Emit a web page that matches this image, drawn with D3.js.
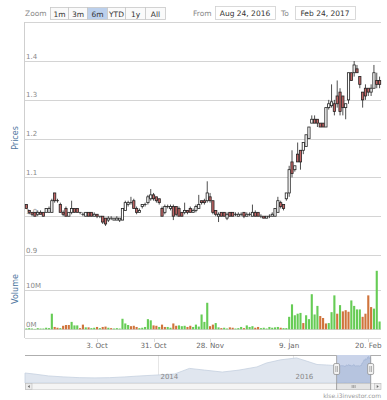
<!DOCTYPE html>
<html>
<head>
<meta charset="utf-8">
<script src="https://cdn.jsdelivr.net/npm/d3@7"></script>
<style>
body { margin: 0; background: #fff; }
text { font-family: "DejaVu Sans", Verdana, sans-serif; }
</style>
</head>
<body>
<svg id="chart"></svg>
<script>
// trading days: weekdays from 24 Aug 2016 to 24 Feb 2017, minus market holidays
const startDay = "2016-08-24", endDay = "2017-02-24";
const holidays = ["2016-08-31", "2016-09-12", "2016-09-16", "2016-12-12", "2016-12-26", "2017-01-30", "2017-02-09"];

const opens = [1.03,1.015,1.01,1.01,1.005,1.01,1.01,1.01,1.01,1.01, 1.06,1.04,1.03,1.01,1.02,1.0,1.01,1.02,1.02,1.01,
  1.005,1.0,1.01,1.01,1.0,1.005,1.0,1.0,0.995,0.99, 0.995,0.99,0.99,0.99,0.99,1.015,1.03,1.035,1.04,1.02,
  1.01,1.025,1.03,1.035,1.045,1.055,1.05,1.045,1.02,1.01, 1.025,1.02,1.025,1.025,1.02,1.01,1.01,1.015,1.02,1.01,
  1.015,1.02,1.04,1.04,1.04,1.05,1.04,1.015,1.0,1.01, 1.01,0.995,1.01,1.01,1.005,1.0,1.005,1.01,1.0,1.005,
  1.0,1.01,1.01,1.0,1.0,0.995,1.0,1.0,1.0,1.01, 1.035,1.03,1.045,1.06,1.14,1.12,1.16,1.17,1.17,1.18,
  1.2,1.24,1.25,1.25,1.24,1.24,1.23,1.28,1.285,1.29, 1.31,1.32,1.31,1.28,1.3,1.37,1.37,1.38,1.36,1.32,
  1.33,1.33,1.32,1.33,1.35,1.35];
const highs = [1.03,1.015,1.01,1.01,1.015,1.015,1.01,1.02,1.025,1.045, 1.06,1.045,1.035,1.015,1.025,1.01,1.04,1.02,1.02,1.01,
  1.01,1.01,1.01,1.01,1.01,1.005,1.0,1.0,0.995,1.0, 1.0,0.995,1.0,0.995,1.02,1.04,1.04,1.05,1.045,1.025,
  1.02,1.03,1.035,1.055,1.07,1.06,1.05,1.045,1.025,1.03, 1.03,1.03,1.03,1.025,1.025,1.01,1.035,1.015,1.025,1.02,
  1.03,1.055,1.04,1.045,1.09,1.06,1.04,1.015,1.01,1.01, 1.01,1.01,1.01,1.01,1.01,1.01,1.01,1.01,1.01,1.01,
  1.03,1.015,1.01,1.005,1.0,1.0,1.005,1.01,1.02,1.05, 1.04,1.03,1.06,1.13,1.17,1.13,1.19,1.17,1.19,1.21,
  1.23,1.26,1.26,1.25,1.24,1.24,1.28,1.3,1.34,1.3, 1.35,1.33,1.31,1.29,1.37,1.37,1.40,1.39,1.36,1.32,
  1.34,1.33,1.34,1.39,1.37,1.36];
const lows = [1.02,1.005,1.0,1.0,1.0,1.005,1.0,1.01,1.01,1.01, 1.035,1.035,1.01,1.0,1.0,1.0,1.005,1.01,1.01,1.005,
  1.0,1.0,1.0,1.0,1.0,0.995,0.995,0.98,0.975,0.985, 0.99,0.99,0.99,0.985,0.99,1.015,1.025,1.03,1.02,1.005,
  1.01,1.02,1.025,1.03,1.04,1.04,1.035,1.03,1.0,1.005, 1.02,1.015,0.99,1.0,1.0,1.0,1.005,1.005,1.01,1.01,
  1.01,1.02,1.03,1.03,1.035,1.035,1.005,1.0,0.985,1.0, 1.0,0.99,1.0,1.0,1.0,1.0,1.0,0.995,1.0,1.0,
  1.0,1.0,1.0,0.995,0.995,0.995,0.995,1.0,1.0,1.01, 1.02,1.015,1.04,1.05,1.1,1.115,1.14,1.12,1.16,1.18,
  1.2,1.24,1.24,1.23,1.23,1.23,1.23,1.275,1.28,1.26, 1.28,1.26,1.26,1.25,1.29,1.35,1.36,1.37,1.33,1.28,
  1.30,1.31,1.31,1.33,1.33,1.33];
const closes = [1.02,1.01,1.005,1.0,1.01,1.005,1.0,1.02,1.02,1.04, 1.04,1.04,1.01,1.005,1.0,1.01,1.02,1.01,1.01,1.01,
  1.005,1.01,1.0,1.0,1.005,1.0,1.0,0.985,0.98,0.995, 0.995,0.995,0.995,0.995,1.02,1.035,1.035,1.035,1.02,1.01,
  1.015,1.03,1.03,1.05,1.055,1.045,1.04,1.035,1.0,1.025, 1.025,1.025,1.0,1.005,1.0,1.0,1.015,1.01,1.01,1.015,
  1.025,1.03,1.035,1.035,1.06,1.04,1.01,1.005,1.005,1.0, 1.0,1.005,1.0,1.0,1.005,1.005,1.005,1.0,1.005,1.005,
  1.01,1.0,1.0,1.0,0.995,1.0,1.0,1.005,1.02,1.04, 1.025,1.02,1.06,1.12,1.11,1.13,1.14,1.14,1.19,1.21,
  1.23,1.25,1.24,1.24,1.23,1.23,1.28,1.29,1.295,1.27, 1.29,1.27,1.28,1.29,1.37,1.35,1.39,1.37,1.34,1.30,
  1.31,1.32,1.33,1.37,1.34,1.34];
// volume in millions, with the bar colour seen in the picture (g = green, o = orange)
const volumes = [0.2,0.3,0.2,0.1,0.3,0.2,0.2,0.4,0.3,4.0, 0.6,0.4,0.3,0.9,1.1,1.1,1.9,1.0,1.0,0.3,
  1.2,0.5,0.5,0.3,0.4,0.6,0.3,0.6,0.7,0.4, 0.3,0.2,0.3,0.2,2.7,1.5,1.1,0.8,0.9,0.6,
  0.3,0.4,0.6,2.6,2.3,1.0,0.9,0.6,1.2,0.6, 0.6,0.4,1.5,0.9,1.0,0.8,0.9,0.6,0.9,0.6,
  1.2,0.7,3.8,1.9,6.8,0.8,1.2,1.6,0.5,0.3, 0.4,0.2,0.5,0.4,0.2,0.3,0.6,0.3,1.0,0.6,
  0.8,0.4,0.6,0.3,0.4,0.2,0.6,0.4,0.5,0.6, 0.4,0.3,0.3,3.2,6.4,3.6,4.0,4.2,1.6,3.6,
  2.6,9.0,3.8,6.0,3.4,2.9,1.5,1.6,4.4,8.7, 4.0,6.2,4.6,4.9,4.5,7.4,6.0,5.1,5.1,3.2,
  4.0,8.7,5.7,5.3,15.0,2.0];
const volColors = ["gggggggggg", "oogooogggo", "ogoggogoog", "oggggggooo", "gggggoogoo",
  "ggoogggoog", "gggggooggo", "ggoogggogg", "googgggggg", "ogggggggog",
  "ggggoooggg", "ogoooggggo", "oooggg"].join("").split("");
const priceTicks = [0.9, 1.0, 1.1, 1.2, 1.3, 1.4];
const priceMax = 1.5;
const volTicks = [0, 10];
const dateTicks = ["2016-10-03", "2016-10-31", "2016-11-28", "2017-01-09", "2017-02-20"];
// navigator history before the visible range
const navDates = ["2012-01-13","2012-03-01","2012-05-20","2012-08-10","2012-11-01","2013-01-25","2013-04-15",
  "2013-07-05","2013-09-25","2014-01-01","2014-04-01","2014-06-20","2014-09-10","2014-12-15","2015-03-15",
  "2015-06-20","2015-08-10","2015-10-25","2016-01-20","2016-03-15","2016-05-10","2016-07-01","2016-08-10"];
const navValues = [0.71,0.67,0.59,0.55,0.52,0.51,0.52,0.55,0.59,0.63,0.67,0.9,0.83,0.75,0.83,
  0.96,1.12,1.25,1.33,1.2,1.06,1.04,1.02];
const navYearTicks = ["2014-01-01", "2016-01-01"];
const navDomain = ["2012-01-13", "2017-04-21"];
const zoomButtons = ["1m", "3m", "6m", "YTD", "1y", "All"];
const selectedButton = "6m";

const W = 387, H = 400;
const left = 25, right = 381;
const svg = d3.select("#chart").attr("width", W).attr("height", H);

const parse = d3.utcParse("%Y-%m-%d");
const fmt = d3.utcFormat("%Y-%m-%d");
const days = d3.utcDay.range(parse(startDay), d3.utcDay.offset(parse(endDay), 1))
  .filter(d => d.getUTCDay() !== 0 && d.getUTCDay() !== 6 && holidays.indexOf(fmt(d)) < 0)
  .map(fmt);

const bars = days.map((d, i) => ({
  date: d, o: opens[i], h: highs[i], l: lows[i], c: closes[i],
  v: volumes[i], col: volColors[i] === "o" ? "#d0743c" : "#66cc55"
}));

const x = d3.scaleBand().domain(days).range([left, right]);
const cx = d => x(d) + x.bandwidth() / 2;
const yP = d3.scaleLinear().domain([0.9, priceMax]).range([255, 22.3]);
const yV = d3.scaleLinear().domain([0, 10]).range([329.3, 290.3]);

// ---- range selector ----
const rangeSel = svg.append("g");
rangeSel.append("text").attr("x", 25).attr("y", 16).attr("font-size", 7.5).attr("fill", "#888").text("Zoom");
const bw = [18, 19, 20, 18, 20, 20];
let bx = 50;
zoomButtons.forEach((b, i) => {
  const sel = b === selectedButton;
  rangeSel.append("rect").attr("x", bx + 0.5).attr("y", 7.5).attr("width", bw[i]).attr("height", 12)
    .attr("fill", sel ? "#bcd0ec" : "#fafafa").attr("stroke", "#c8c8c8").attr("stroke-width", 0.8);
  rangeSel.append("text").attr("x", bx + bw[i] / 2 + 0.5).attr("y", 16.5).attr("text-anchor", "middle")
    .attr("font-size", 7.5).attr("fill", "#333").text(b);
  bx += bw[i];
});
rangeSel.append("text").attr("x", 193).attr("y", 16).attr("font-size", 7.5).attr("fill", "#888").text("From");
rangeSel.append("text").attr("x", 281).attr("y", 16).attr("font-size", 7.5).attr("fill", "#888").text("To");
[[215, "Aug 24, 2016"], [295, "Feb 24, 2017"]].forEach(([ix, t]) => {
  rangeSel.append("rect").attr("x", ix + 0.5).attr("y", 6.5).attr("width", 60).attr("height", 13)
    .attr("fill", "#fff").attr("stroke", "#d0d0d0").attr("stroke-width", 0.8);
  rangeSel.append("text").attr("x", ix + 30).attr("y", 16.3).attr("text-anchor", "middle")
    .attr("font-size", 7.5).attr("fill", "#333").text(t);
});

// ---- price pane ----
const grid = svg.append("g");
priceTicks.concat([priceMax]).forEach(t => {
  grid.append("line").attr("x1", left).attr("x2", right)
    .attr("y1", Math.round(yP(t)) + 0.5).attr("y2", Math.round(yP(t)) + 0.5)
    .attr("stroke", "#d4d4d4").attr("stroke-width", 1);
});
priceTicks.forEach(t => {
  grid.append("text").attr("x", 26).attr("y", yP(t) - 2.5).attr("font-size", 7)
    .attr("fill", "#888").text(d3.format(".1f")(t));
});
svg.append("text").attr("transform", "translate(18,138) rotate(-90)").attr("text-anchor", "middle")
  .attr("font-size", 8).attr("fill", "#4d759e").text("Prices");

// volume pane grid
volTicks.forEach(t => {
  grid.append("line").attr("x1", left).attr("x2", right)
    .attr("y1", Math.round(yV(t)) + 0.5).attr("y2", Math.round(yV(t)) + 0.5)
    .attr("stroke", "#d4d4d4");
  grid.append("text").attr("x", 26).attr("y", yV(t) - 2.5).attr("font-size", 7)
    .attr("fill", "#888").text(t + "M");
});
svg.append("text").attr("transform", "translate(18,289) rotate(-90)").attr("text-anchor", "middle")
  .attr("font-size", 8).attr("fill", "#4d759e").text("Volume");

// axis lines
svg.append("line").attr("x1", 24.5).attr("x2", 24.5).attr("y1", 22).attr("y2", 338)
  .attr("stroke", "#cfcfcf");
svg.append("line").attr("x1", left).attr("x2", right).attr("y1", 338.5).attr("y2", 338.5)
  .attr("stroke", "#dcdcdc");

// candles
const bodyW = x.bandwidth() * 0.8;
const candles = svg.append("g").selectAll("g").data(bars).enter().append("g");
candles.append("line")
  .attr("x1", d => cx(d.date)).attr("x2", d => cx(d.date))
  .attr("y1", d => yP(d.h)).attr("y2", d => yP(d.l))
  .attr("stroke", "#222").attr("stroke-width", 0.8);
candles.append("rect")
  .attr("x", d => cx(d.date) - bodyW / 2)
  .attr("y", d => yP(Math.max(d.o, d.c)))
  .attr("width", bodyW)
  .attr("height", d => Math.max(0.01, Math.abs(yP(d.o) - yP(d.c))))
  .attr("fill", d => d.c < d.o ? "#c46565" : "#fff")
  .attr("stroke", "#222").attr("stroke-width", 0.8);

// volume bars
const volW = x.bandwidth() * 0.75;
svg.append("g").selectAll("rect").data(bars).enter().append("rect")
  .attr("x", d => cx(d.date) - volW / 2)
  .attr("y", d => yV(d.v))
  .attr("width", volW)
  .attr("height", d => yV(0) - yV(d.v))
  .attr("fill", d => d.col);

// x axis labels
dateTicks.forEach(t => {
  const px = cx(t);
  svg.append("line").attr("x1", Math.round(px) + 0.5).attr("x2", Math.round(px) + 0.5)
    .attr("y1", 338.5).attr("y2", 342).attr("stroke", "#dcdcdc");
  svg.append("text").attr("x", px).attr("y", 348).attr("text-anchor", "middle")
    .attr("font-size", 7.2).attr("fill", "#666").text(d3.utcFormat("%-d. %b")(parse(t)));
});

// ---- navigator ----
const navTop = 355, navBot = 383, scrollBot = 390;
const xN = d3.scaleUtc().domain(navDomain.map(parse)).range([left, right]);
const yN = d3.scaleLinear().domain([0.3, 1.45]).range([navBot, navTop]);
const navData = navDates.map((d, i) => ({ t: parse(d), v: navValues[i] }))
  .concat(bars.map(b => ({ t: parse(b.date), v: b.c })));
const nav = svg.append("g");
navYearTicks.forEach(t => {
  const px = Math.round(xN(parse(t))) + 0.5;
  nav.append("line").attr("x1", px).attr("x2", px).attr("y1", navTop).attr("y2", navBot)
    .attr("stroke", "#e6e6e6");
});
nav.append("path").datum(navData)
  .attr("d", d3.area().x(d => xN(d.t)).y0(navBot).y1(d => yN(d.v)))
  .attr("fill", "#e0e6ef").attr("stroke", "#c5d0e0").attr("stroke-width", 0.8);
navYearTicks.forEach(t => {
  nav.append("text").attr("x", xN(parse(t)) + 2.5).attr("y", 379).attr("font-size", 7)
    .attr("fill", "#888").text(d3.utcFormat("%Y")(parse(t)));
});
const xL = xN(parse(days[0])), xR = xN(parse(days[days.length - 1]));
nav.append("rect").attr("x", xL).attr("y", navTop).attr("width", xR - xL).attr("height", navBot - navTop)
  .attr("fill", "rgba(102,133,194,0.35)");

// scrollbar
nav.append("rect").attr("x", left + 0.5).attr("y", navBot + 0.5).attr("width", right - left - 1)
  .attr("height", scrollBot - navBot - 1).attr("fill", "#f4f4f4").attr("stroke", "#d6d6d6").attr("stroke-width", 0.8);
nav.append("rect").attr("x", xL).attr("y", navBot + 0.5).attr("width", xR - xL)
  .attr("height", scrollBot - navBot - 1).attr("fill", "#e4e4e4").attr("stroke", "#bbb").attr("stroke-width", 0.6);
[-1.5, 0, 1.5].forEach(o => {
  const gx = (xL + xR) / 2 + o;
  nav.append("line").attr("x1", gx).attr("x2", gx).attr("y1", navBot + 2).attr("y2", scrollBot - 2)
    .attr("stroke", "#777").attr("stroke-width", 0.6);
});
[[left, 1], [right - 7, -1]].forEach(([sx, dir]) => {
  nav.append("rect").attr("x", sx + 0.5).attr("y", navBot + 0.5).attr("width", 6.5)
    .attr("height", scrollBot - navBot - 1).attr("fill", "#ebebeb").attr("stroke", "#bbb").attr("stroke-width", 0.6);
  const mx = sx + 3.75, my = (navBot + scrollBot) / 2;
  nav.append("path").attr("d", dir > 0
      ? `M${mx + 1},${my - 1.5}L${mx - 1},${my}L${mx + 1},${my + 1.5}Z`
      : `M${mx - 1},${my - 1.5}L${mx + 1},${my}L${mx - 1},${my + 1.5}Z`)
    .attr("fill", "#666");
});

// outline
nav.append("path")
  .attr("d", `M${left},${navTop + 0.5}H${xL}V${scrollBot}M${xR},${scrollBot}V${navTop + 0.5}H${right}`)
  .attr("fill", "none").attr("stroke", "#999").attr("stroke-width", 0.8);
// handles
[xL, xR].forEach(hx => {
  nav.append("rect").attr("x", hx - 3).attr("y", 363.5).attr("width", 6).attr("height", 11).attr("rx", 1.5)
    .attr("fill", "#f2f2f2").attr("stroke", "#888").attr("stroke-width", 0.7);
  [-0.8, 0.8].forEach(o => nav.append("line").attr("x1", hx + o).attr("x2", hx + o)
    .attr("y1", 366).attr("y2", 372).attr("stroke", "#666").attr("stroke-width", 0.5));
});

svg.append("text").attr("x", right).attr("y", 398).attr("text-anchor", "end").attr("font-size", 6)
  .attr("fill", "#999").text("klse.i3investor.com");
</script>
</body>
</html>
